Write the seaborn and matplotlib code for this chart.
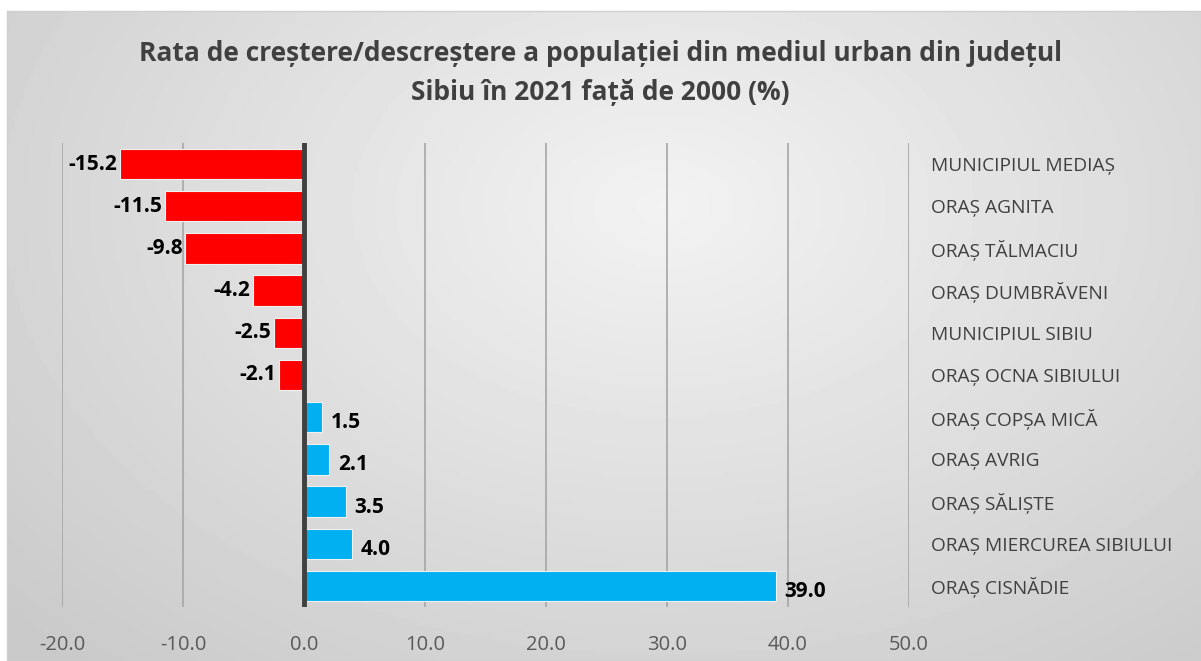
import numpy as np
import pandas as pd
import matplotlib.pyplot as plt
import seaborn as sns

localitati = ['MUNICIPIUL MEDIAȘ', 'ORAȘ AGNITA', 'ORAȘ TĂLMACIU', 'ORAȘ DUMBRĂVENI',
              'MUNICIPIUL SIBIU', 'ORAȘ OCNA SIBIULUI', 'ORAȘ COPȘA MICĂ', 'ORAȘ AVRIG',
              'ORAȘ SĂLIȘTE', 'ORAȘ MIERCUREA SIBIULUI', 'ORAȘ CISNĂDIE']
rata = [-15.2, -11.5, -9.8, -4.2, -2.5, -2.1, 1.5, 2.1, 3.5, 4.0, 39.0]
x_ticks = [-20, -10, 0, 10, 20, 30, 40, 50]

titlu = 'Rata de creștere/descreștere a populației din mediul urban din județul\nSibiu în 2021 față de 2000 (%)'

df = pd.DataFrame({'Localitate': localitati, 'Rata': rata})
culori = ['#FF0000' if v < 0 else '#00B0F0' for v in rata]

sns.set_theme(style='white')
plt.rcParams['font.family'] = ['Open Sans', 'DejaVu Sans']

fig = plt.figure(figsize=(12.01, 6.61), dpi=100)

# background gradient (chart area)
bg = fig.add_axes([7 / 1201, 0, 1 - 7 / 1201, 1 - 11 / 661])
yy, xx = np.mgrid[0:1:200j, 0:1:360j]
r = np.sqrt(((xx - 0.55) / 0.8) ** 2 + ((yy - 0.3) / 1.0) ** 2)
grad = np.clip(0.95 - 0.17 * r, 0.79, 0.95)
bg.imshow(grad, cmap='gray', vmin=0, vmax=1, aspect='auto', extent=[0, 1, 0, 1])
bg.set_xticks([])
bg.set_yticks([])
for s in bg.spines.values():
    s.set_color('#d0d0d0')
    s.set_linewidth(1)

ax = fig.add_axes([62 / 1201, 54 / 661, 847 / 1201, 464 / 661])
ax.patch.set_alpha(0)

sns.barplot(data=df, x='Rata', y='Localitate', hue='Localitate', palette=culori,
            saturation=1, legend=False, width=0.72, edgecolor='#f0f0f0', linewidth=0.8,
            ax=ax, zorder=3)

ax.set_xlim(-20, 50)
ax.set_xticks(x_ticks)
ax.set_xticklabels([f'{t:.1f}' for t in x_ticks], fontsize=14.5, color='#595959')
ax.tick_params(axis='x', length=0, pad=20)
for t in x_ticks:
    if t != 0:
        ax.axvline(t, color='#a6a6a6', linewidth=1.2, zorder=1)
ax.axvline(0, color='#404040', linewidth=3.5, zorder=4)

ax.yaxis.tick_right()
ax.tick_params(axis='y', length=0, pad=16, labelsize=13.8, labelcolor='#404040')
ax.set_xlabel('')
ax.set_ylabel('')
for s in ax.spines.values():
    s.set_visible(False)

for i, v in enumerate(rata):
    if v < 0:
        ax.annotate(f'{v:.1f}', (v, i), xytext=(-2, 0), textcoords='offset points',
                    ha='right', va='center', fontsize=15, fontweight='bold', color='black')
    else:
        ax.annotate(f'{v:.1f}', (v, i), xytext=(6, -4), textcoords='offset points',
                    ha='left', va='center', fontsize=15, fontweight='bold', color='black')

fig.text(0.5, 1 - 73 / 661, titlu, ha='center', va='center', fontsize=19,
         fontweight='bold', color='#404040', linespacing=1.55)

fig.savefig('out.png', dpi=100)
